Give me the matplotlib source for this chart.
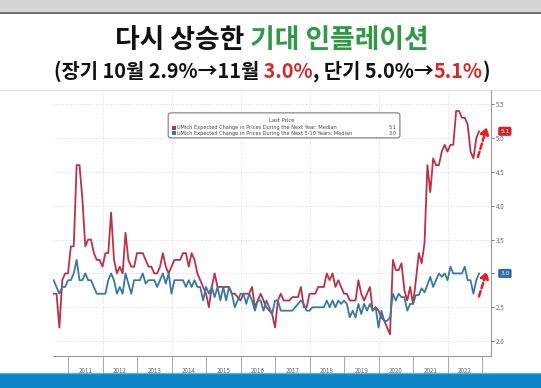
import numpy as np
import matplotlib
matplotlib.use("Agg")
import matplotlib.pyplot as plt
from matplotlib.patches import Rectangle, FancyBboxPatch
from matplotlib.lines import Line2D
from matplotlib.text import Annotation

plt.rcParams['font.family'] = ['Noto Sans CJK KR', 'DejaVu Sans']

# --- DATA: UMich inflation expectations, monthly Jul 2010 .. Nov 2022 ---
start_year, start_month = 2010, 7

one_year = [
    2.7, 2.7, 2.2, 2.9, 3.0, 3.0,                                   # 2010
    3.4, 3.4, 4.6, 4.6, 4.1, 3.4, 3.5, 3.5, 3.3, 3.2, 3.2, 3.1,     # 2011
    3.3, 3.3, 3.9, 3.2, 3.0, 3.1, 3.0, 3.6, 3.2, 3.1, 3.1, 3.3,     # 2012
    3.3, 3.3, 3.2, 3.1, 3.1, 3.0, 3.0, 3.1, 3.3, 3.1, 3.0, 3.1,     # 2013
    3.2, 3.2, 3.2, 3.3, 3.3, 3.1, 3.3, 3.2, 3.0, 2.9, 2.8, 2.7,     # 2014
    2.5, 2.8, 3.0, 2.8, 2.8, 2.8, 2.8, 2.8, 2.7, 2.7, 2.65, 2.6,    # 2015
    2.7, 2.7, 2.7, 2.8, 2.5, 2.6, 2.7, 2.6, 2.5, 2.45, 2.4, 2.2,    # 2016
    2.6, 2.7, 2.6, 2.6, 2.6, 2.65, 2.65, 2.65, 2.8, 2.5, 2.5, 2.7,  # 2017
    2.7, 2.7, 2.8, 2.8, 2.8, 3.0, 2.9, 3.0, 2.8, 2.9, 2.8, 2.7,     # 2018
    2.7, 2.6, 2.6, 2.6, 2.9, 2.7, 2.6, 2.7, 2.8, 2.45, 2.5, 2.45,   # 2019
    2.35, 2.3, 2.2, 2.1, 3.2, 3.05, 3.05, 3.15, 2.75, 2.6, 2.8, 2.55,  # 2020
    2.9, 3.3, 3.15, 3.45, 4.6, 4.2, 4.7, 4.6, 4.6, 4.8, 4.9, 4.8,   # 2021
    4.9, 4.9, 5.4, 5.4, 5.3, 5.3, 5.2, 4.8, 4.7, 5.0, 5.1,          # 2022
]

five_ten = [
    2.9, 2.8, 2.7, 2.8, 2.8, 2.9,                                   # 2010
    2.9, 3.0, 3.2, 2.9, 2.9, 3.0, 2.9, 2.9, 2.8, 2.7, 2.7, 2.7,     # 2011
    2.7, 2.9, 3.0, 2.9, 2.7, 2.8, 2.7, 3.0, 2.85, 2.7, 2.9, 2.9,    # 2012
    2.9, 3.0, 2.85, 2.9, 2.9, 2.9, 2.8, 2.9, 3.0, 2.85, 3.0, 2.7,   # 2013
    2.9, 2.9, 2.9, 2.9, 2.8, 2.9, 2.8, 2.9, 2.8, 2.8, 2.6, 2.8,     # 2014
    2.7, 2.8, 2.65, 2.8, 2.6, 2.8, 2.6, 2.8, 2.7, 2.5, 2.6, 2.7,    # 2015
    2.7, 2.55, 2.7, 2.6, 2.45, 2.6, 2.6, 2.45, 2.6, 2.5, 2.4, 2.6,  # 2016
    2.6, 2.45, 2.45, 2.45, 2.45, 2.45, 2.5, 2.55, 2.6, 2.55, 2.45, 2.45,  # 2017
    2.5, 2.5, 2.5, 2.5, 2.5, 2.6, 2.5, 2.6, 2.5, 2.6, 2.55, 2.6,    # 2018
    2.55, 2.35, 2.45, 2.35, 2.55, 2.4, 2.55, 2.45, 2.55, 2.45, 2.5, 2.2,  # 2019
    2.45, 2.3, 2.3, 2.35, 2.7, 2.6, 2.7, 2.65, 2.65, 2.45, 2.55, 2.55,    # 2020
    2.68, 2.68, 2.78, 2.72, 2.83, 2.95, 2.8, 2.9, 3.0, 2.95, 3.0, 2.9,    # 2021
    3.1, 3.0, 3.0, 3.0, 3.0, 3.1, 2.9, 2.9, 2.7, 2.9, 3.0,          # 2022
]

years = list(range(2011, 2023))
yticks = [2.0, 2.5, 3.0, 3.5, 4.0, 4.5, 5.0, 5.5]
last_one, last_five = 5.1, 3.0

label_one = "UMich Expected Change in Prices During the Next Year: Median"
label_five = "UMich Expected Change in Prices During the Next 5-10 Years: Median"

title_parts = [("다시 상승한", "#111111"), (" 기대 인플레이션", "#2e9a46")]
sub_parts = [("(장기 10월 2.9%→11월", "#111111"), (" 3.0%", "#d42a2a"),
             (", 단기 5.0%→", "#111111"), ("5.1%", "#d42a2a"), (")", "#111111")]

RED = "#bb3148"
BLUE = "#3a79a1"

t = start_year + (start_month + np.arange(len(one_year))) / 12.0

# --- FIGURE ---
W, H = 541, 388
fig = plt.figure(figsize=(W / 100, H / 100), dpi=100)
fig.patch.set_facecolor("white")

# top grey band of the screen capture and the blue band at the bottom
fig.patches.append(Rectangle((0, 1 - 12 / H), 1, 12 / H, transform=fig.transFigure,
                             facecolor="#d6d6d6", edgecolor="none"))
fig.lines.append(Line2D([0, 1], [1 - 13 / H] * 2, transform=fig.transFigure,
                        color="#555555", lw=1.2))
fig.patches.append(Rectangle((0, 0), 1, 15 / H, transform=fig.transFigure,
                             facecolor="#0a84c6", edgecolor="none"))
fig.lines.append(Line2D([0, 1], [15 / H] * 2, transform=fig.transFigure,
                        color="#5fb2e2", lw=1.0))
fig.lines.append(Line2D([0, 1], [1 - 90 / H] * 2, transform=fig.transFigure,
                        color="#e0e0e0", lw=0.8))


def colored_line(y, parts, size):
    first = fig.text(0.5, y, parts[0][0], color=parts[0][1], fontsize=size,
                     fontweight="bold", ha="left", va="center")
    arts = [first]
    prev = first
    for s, c in parts[1:]:
        a = Annotation(s, xy=(1, 0), xycoords=prev, ha="left", va="bottom",
                       color=c, fontsize=size, fontweight="bold")
        fig.add_artist(a)
        arts.append(a)
        prev = a
    return arts


title_arts = colored_line(1 - 40 / H, title_parts, 19.3)
sub_arts = colored_line(1 - 71 / H, sub_parts, 14.3)

# --- AXES ---
ax = fig.add_axes([53 / W, 1 - 356 / H, 438 / W, 266 / H])
ax.plot(t, one_year, color=RED, lw=1.3, zorder=3)
ax.plot(t, five_ten, color=BLUE, lw=1.3, zorder=3)

ax.set_xlim(2010.565, 2023.26)
ax.set_ylim(1.78, 5.71)

for spine in ("left", "top"):
    ax.spines[spine].set_visible(False)
for spine in ("bottom", "right"):
    ax.spines[spine].set_color("#9a9a9a")
    ax.spines[spine].set_linewidth(0.8)

# the 3.0 tick label sits under the blue last-value tag
ax.yaxis.tick_right()
ax.set_yticks(yticks, ["" if v == last_five else f"{v:.1f}" for v in yticks])
ax.tick_params(axis="y", length=2, width=0.6, pad=1.5, labelsize=4.5,
               colors="#666666")

# years: labels centred in each year, separators on year boundaries
ax.set_xticks([y + 0.5 for y in years], [str(y) for y in years])
ax.set_xticks(years + [years[-1] + 1], minor=True)
ax.tick_params(axis="x", which="major", length=0, pad=8, labelsize=4.5,
               colors="#666666")
ax.tick_params(axis="x", which="minor", length=12, width=0.6, color="#9a9a9a")

for v in yticks:
    ax.axhline(v, color="#cfcfcf", lw=0.6, ls=(0, (1, 2)), zorder=1)
for y in years[1::2]:
    ax.axvline(y, color="#cfcfcf", lw=0.6, ls=(0, (1, 2)), zorder=1)

# legend box
box = FancyBboxPatch((0.263, 0.820), 0.529, 0.094, transform=ax.transAxes,
                     boxstyle="round,pad=0,rounding_size=0.008",
                     facecolor="white", edgecolor="#7a7a7a", lw=0.8, zorder=5)
ax.add_patch(box)
ax.text(0.523, 0.884, "Last Price", transform=ax.transAxes, fontsize=3.8,
        color="#444444", ha="center", va="center", zorder=6, family="DejaVu Sans")
for yy, col, lab, val in [(0.858, RED, label_one, last_one),
                          (0.837, BLUE, label_five, last_five)]:
    ax.add_patch(Rectangle((0.271, yy - 0.008), 0.009, 0.016, transform=ax.transAxes,
                           facecolor=col, edgecolor="none", zorder=6))
    ax.text(0.284, yy, lab, transform=ax.transAxes, fontsize=3.6, color="#444444",
            ha="left", va="center", zorder=6, family="DejaVu Sans")
    ax.text(0.785, yy, f"{val:.1f}", transform=ax.transAxes, fontsize=3.6,
            color="#444444", ha="right", va="center", zorder=6, family="DejaVu Sans")

# last value tags on the right axis
for val, col in [(last_one, "#d0232c"), (last_five, "#2b6cab")]:
    ax.text(1.021, val, f"{val:.1f}", transform=ax.get_yaxis_transform(),
            fontsize=4.2, color="white", ha="left", va="center", zorder=7,
            family="DejaVu Sans", clip_on=False,
            bbox=dict(boxstyle="round,pad=0.35,rounding_size=0.3",
                      facecolor=col, edgecolor="none"))

# red dashed arrows pointing at the latest move
arrow = dict(arrowstyle="-|>,head_width=0.25,head_length=0.4", color="#e82020",
             lw=1.8, ls=(0, (2.2, 1.2)), shrinkA=0, shrinkB=0)
ax.annotate("", xy=(2023.14, 5.16), xytext=(2022.88, 4.72), arrowprops=arrow,
            zorder=8, annotation_clip=False)
ax.annotate("", xy=(2023.14, 3.03), xytext=(2022.91, 2.66), arrowprops=arrow,
            zorder=8, annotation_clip=False)

# centre the coloured title lines
fig.canvas.draw()
r = fig.canvas.get_renderer()
for arts in (title_arts, sub_arts):
    x0 = arts[0].get_window_extent(r).x0
    x1 = arts[-1].get_window_extent(r).x1
    width = (x1 - x0) / W
    arts[0].set_x(0.503 - width / 2)

fig.savefig("out.png", dpi=100)
